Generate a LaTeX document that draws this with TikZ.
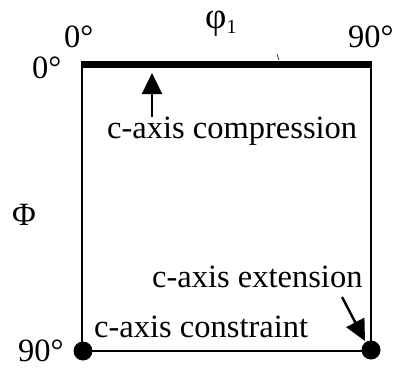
\documentclass[tikz,border=0pt]{standalone}
\usepackage{fontspec}
\setmainfont{Liberation Serif}
\usetikzlibrary{arrows.meta}
\begin{document}
\begin{tikzpicture}[x=1pt,y=-1pt,
  lbl/.style={inner sep=0pt,anchor=base west,font=\fontsize{32.5}{38}\selectfont},
  edge/.style={line width=2.4pt},
  thickedge/.style={line width=7pt},
  pointer/.style={line width=2.4pt,-{Triangle[width=20pt,length=21pt]}},
  dot/.style={circle,fill=black,inner sep=0pt,minimum size=19pt}]
\useasboundingbox (0,0) rectangle (396,367);
% corners
\coordinate (tl) at (82,64);
\coordinate (tr) at (371,64);
\coordinate (bl) at (82,351);
\coordinate (br) at (371,351);
% frame
\draw[edge] (tl) -- (bl) -- (br) -- (tr);
\draw[thickedge] ([xshift=-1.2pt]tl) -- ([xshift=1.2pt]tr);
\coordinate (tickA) at (277,54);
\coordinate (tickB) at (279,60);
\draw[line width=0.6pt] (tickA) -- (tickB);
% dots
\node[dot] (d1) at (83,351) {};
\node[dot] (d2) at (371,350) {};
% axis labels
\node[lbl,font=\fontsize{37}{40}\selectfont] (phi) at (205,28) {φ\raisebox{-5pt}{\fontsize{20}{22}\selectfont 1}};
\node[lbl] (t0) at (64,47) {0°};
\node[lbl] (t90) at (348,47) {90°};
\node[lbl] (l0) at (32,78) {0°};
\node[lbl] (l90) at (18,361) {90°};
\node[inner sep=0pt,font=\fontsize{32.5}{38}\selectfont] (Phi) at (24,215) {Φ};
% annotations
\node[lbl] (comp) at (107,138) {c-axis compression};
\node[lbl] (ext) at (152,287) {c-axis extension};
\node[lbl] (cons) at (94,337) {c-axis constraint};
\coordinate (a1s) at (152,117);
\coordinate (a1e) at (152,73);
\draw[pointer] (a1s) -- (a1e);
\coordinate (a2s) at (342,297);
\coordinate (a2e) at (365,341);
\draw[pointer] (a2s) -- (a2e);
\end{tikzpicture}
\end{document}
